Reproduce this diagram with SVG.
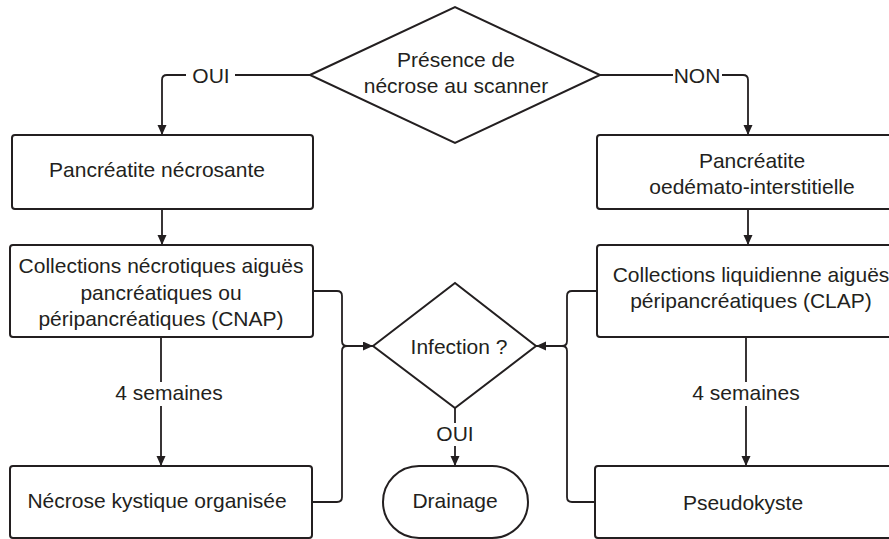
<svg xmlns="http://www.w3.org/2000/svg" width="889" height="539" viewBox="0 0 889 539">
<defs>
<style>
.box{fill:#fff;stroke:#231f20;stroke-width:2}
.ln{fill:none;stroke:#231f20;stroke-width:1.8}
text{font-family:"Liberation Sans",Arial,sans-serif;font-size:21px;fill:#231f20;text-anchor:middle}
</style>
<marker id="ah" markerUnits="userSpaceOnUse" markerWidth="11" markerHeight="10" refX="10" refY="4.5" orient="auto">
<path d="M0,0 L10,4.5 L0,9 z" fill="#231f20"/>
</marker>
</defs>
<rect width="889" height="539" fill="#fff"/>
<g id="connectors">
<path class="ln" d="M310,75 H235"/>
<path class="ln" d="M186,75 H167 Q162,75 162,80 V135" marker-end="url(#ah)"/>
<path class="ln" d="M600,75 H673"/>
<path class="ln" d="M722,75 H743 Q748,75 748,80 V135" marker-end="url(#ah)"/>
<path class="ln" d="M162,209 V245" marker-end="url(#ah)"/>
<path class="ln" d="M748,209 V245" marker-end="url(#ah)"/>
<path class="ln" d="M161,337 V382"/>
<path class="ln" d="M161,406 V466" marker-end="url(#ah)"/>
<path class="ln" d="M746,334 V382"/>
<path class="ln" d="M746,406 V466" marker-end="url(#ah)"/>
<path class="ln" d="M313,291 H337 Q342,291 342,296 V341 Q342,346 347,346 H373" marker-end="url(#ah)"/>
<path class="ln" d="M313,502 H337 Q342,502 342,497 V351 Q342,346 347,346"/>
<path class="ln" d="M597,291 H572 Q567,291 567,296 V341 Q567,346 562,346 H536" marker-end="url(#ah)"/>
<path class="ln" d="M595,502 H572 Q567,502 567,497 V351 Q567,346 562,346"/>
<path class="ln" d="M455,408 V423"/>
<path class="ln" d="M455,446 V466" marker-end="url(#ah)"/>
<text x="211" y="83">OUI</text>
<text x="697" y="83">NON</text>
<text x="169" y="400">4 semaines</text>
<text x="746" y="400">4 semaines</text>
<text x="455" y="441">OUI</text>
</g>
<g id="presence">
<polygon class="box" points="310,75 455,7 600,75 455,143"/>
<text x="456" y="67">Présence de</text>
<text x="456" y="93">nécrose au scanner</text>
</g>
<g id="pancreatite-necrosante">
<rect class="box" x="12" y="135" width="301" height="74" rx="3"/>
<text x="157" y="177">Pancréatite nécrosante</text>
</g>
<g id="pancreatite-oedemato">
<rect class="box" x="597" y="135" width="310" height="74" rx="3"/>
<text x="752" y="168">Pancréatite</text>
<text x="752" y="194">oedémato-interstitielle</text>
</g>
<g id="cnap">
<rect class="box" x="10" y="245" width="303" height="92" rx="3"/>
<text x="161" y="273">Collections nécrotiques aiguës</text>
<text x="161" y="300">pancréatiques ou</text>
<text x="161" y="326">péripancréatiques (CNAP)</text>
</g>
<g id="clap">
<rect class="box" x="597" y="245" width="310" height="92" rx="3"/>
<text x="751" y="282">Collections liquidienne aiguës</text>
<text x="751" y="308">péripancréatiques (CLAP)</text>
</g>
<g id="infection">
<polygon class="box" points="373,346 455,283 536,346 455,408"/>
<text x="459" y="354">Infection ?</text>
</g>
<g id="necrose-kystique">
<rect class="box" x="10" y="466" width="302" height="72" rx="3"/>
<text x="157" y="508">Nécrose kystique organisée</text>
</g>
<g id="drainage">
<rect class="box" x="383" y="466" width="145" height="72" rx="36"/>
<text x="455" y="508">Drainage</text>
</g>
<g id="pseudokyste">
<rect class="box" x="595" y="466" width="312" height="72" rx="3"/>
<text x="743" y="510">Pseudokyste</text>
</g>
</svg>
